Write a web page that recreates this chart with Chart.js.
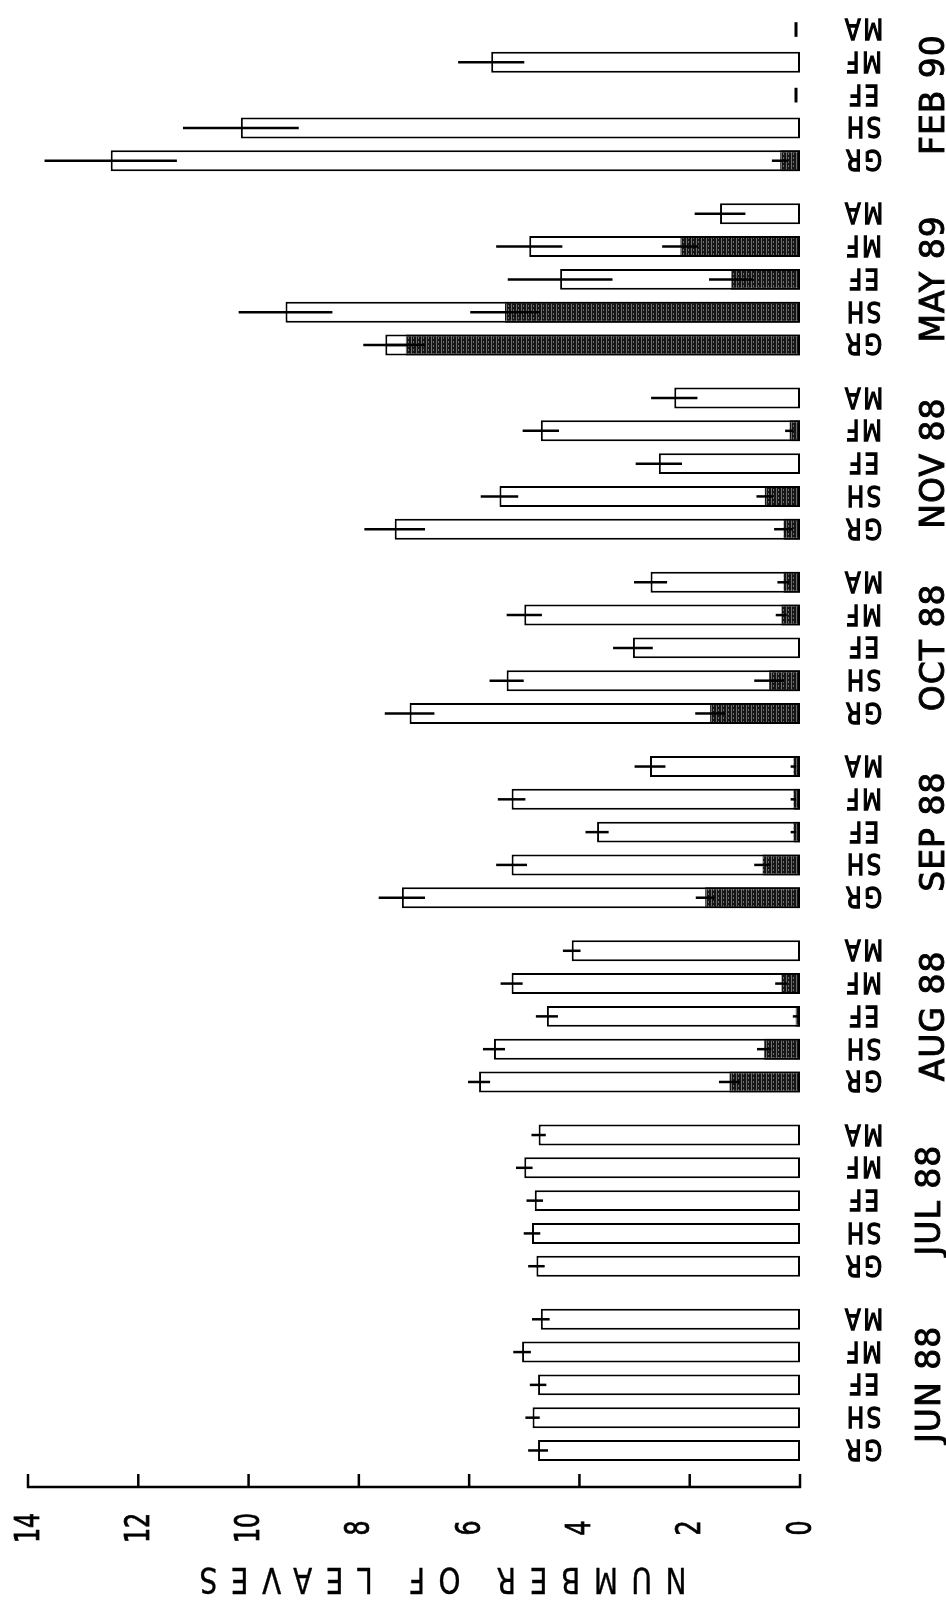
<!DOCTYPE html>
<html>
<head>
<meta charset="utf-8">
<title>Number of leaves</title>
<script src="https://cdn.jsdelivr.net/npm/chart.js@4/dist/chart.umd.min.js"></script>
<style>
  html, body { margin: 0; padding: 0; background: #ffffff; }
  #wrap { position: relative; width: 946px; height: 1603px; }
</style>
</head>
<body>
<div id="wrap"><canvas id="c" width="946" height="1603"></canvas></div>
<script>
// Sampling dates (bottom to top) and sites within each date
const months = ['JUN 88', 'JUL 88', 'AUG 88', 'SEP 88', 'OCT 88', 'NOV 88', 'MAY 89', 'FEB 90'];
const sites = ['GR', 'SH', 'EF', 'MF', 'MA'];
const valueTicks = [0, 2, 4, 6, 8, 10, 12, 14];
const axisTitle = 'NUMBER OF LEAVES';

// Total leaves per shoot (mean) and its error, one value per date
const grTotal = [4.75, 4.78, 5.82, 7.22, 7.08, 7.35, 7.52, 12.5];
const grTotalErr = [0.18, 0.15, 0.20, 0.42, 0.45, 0.55, 0.40, 1.20];
const shTotal = [4.85, 4.86, 5.55, 5.23, 5.32, 5.45, 9.33, 10.14];
const shTotalErr = [0.13, 0.15, 0.20, 0.28, 0.31, 0.34, 0.85, 1.05];
const efTotal = [4.75, 4.81, 4.59, 3.68, 3.03, 2.56, 4.35, 0];
const efTotalErr = [0.15, 0.15, 0.20, 0.21, 0.36, 0.42, 0.95, 0];
const mfTotal = [5.04, 5.00, 5.23, 5.23, 5.00, 4.70, 4.91, 5.60];
const mfTotalErr = [0.16, 0.15, 0.20, 0.25, 0.32, 0.33, 0.60, 0.60];
const maTotal = [4.70, 4.74, 4.14, 2.72, 2.71, 2.28, 1.45, 0];
const maTotalErr = [0.16, 0.13, 0.16, 0.28, 0.30, 0.42, 0.46, 0];

// Dead (shaded) part of the leaf count and its error
const grDark = [0, 0, 1.28, 1.72, 1.63, 0.30, 7.15, 0.36];
const grDarkErr = [0, 0, 0.19, 0.17, 0.27, 0.17, 0.35, 0.15];
const shDark = [0, 0, 0.65, 0.68, 0.56, 0.64, 5.35, 0];
const shDarkErr = [0, 0, 0.13, 0.15, 0.27, 0.15, 0.63, 0];
const efDark = [0, 0, 0.08, 0.12, 0, 0, 1.25, 0];
const efDarkErr = [0, 0, 0.05, 0.05, 0, 0, 0.40, 0];
const mfDark = [0, 0, 0.34, 0.12, 0.34, 0.19, 2.17, 0];
const mfDarkErr = [0, 0, 0.11, 0.05, 0.10, 0.08, 0.33, 0];
const maDark = [0, 0, 0, 0.12, 0.30, 0, 0, 0];
const maDarkErr = [0, 0, 0, 0.05, 0.11, 0, 0, 0];

const totals = { GR: grTotal, SH: shTotal, EF: efTotal, MF: mfTotal, MA: maTotal };
const totalErrs = { GR: grTotalErr, SH: shTotalErr, EF: efTotalErr, MF: mfTotalErr, MA: maTotalErr };
const darks = { GR: grDark, SH: shDark, EF: efDark, MF: mfDark, MA: maDark };
const darkErrs = { GR: grDarkErr, SH: shDarkErr, EF: efDarkErr, MF: mfDarkErr, MA: maDarkErr };

const canvas = document.getElementById('c');
const ctx0 = canvas.getContext('2d');

// Dark stippled fill used for the shaded part of each bar
function makeShade() {
  const p = document.createElement('canvas');
  p.width = 5; p.height = 4;
  const g = p.getContext('2d');
  g.fillStyle = '#151515'; g.fillRect(0, 0, 5, 4);
  g.fillStyle = '#6e6e6e'; g.fillRect(1, 0, 1, 4); g.fillRect(3, 1, 1, 2);
  return ctx0.createPattern(p, 'repeat');
}
const shade = makeShade();

// Top of each date group is MA, bottom is GR
const stackOrder = ['MA', 'MF', 'EF', 'SH', 'GR'];
const nz = arr => arr.map(v => (v > 0 ? v : null));

const datasets = [];
stackOrder.forEach(s => {
  datasets.push({
    label: s + ' dead', data: nz(darks[s]), stack: s, order: 0,
    backgroundColor: shade, borderColor: '#000', borderWidth: 2, borderSkipped: 'end'
  });
});
stackOrder.forEach(s => {
  datasets.push({
    label: s, data: nz(totals[s]), stack: s, order: 1,
    backgroundColor: '#ffffff', borderColor: '#000', borderWidth: 2, borderSkipped: false
  });
});

function drawText(ctx, text, x, y, angle, font, sx, spacing, stroke) {
  ctx.save();
  ctx.translate(x, y);
  ctx.rotate(angle);
  ctx.scale(sx, 1);
  ctx.font = font;
  ctx.letterSpacing = (spacing || 0) + 'px';
  ctx.textAlign = 'center';
  ctx.textBaseline = 'alphabetic';
  ctx.fillStyle = '#000';
  const m = ctx.measureText(text);
  const dx = spacing ? spacing / 2 : 0;
  const dy = (m.actualBoundingBoxAscent - m.actualBoundingBoxDescent) / 2;
  ctx.fillText(text, dx, dy);
  if (stroke) {
    ctx.strokeStyle = '#000';
    ctx.lineWidth = stroke;
    ctx.strokeText(text, dx, dy);
  }
  ctx.restore();
}

const decorations = {
  id: 'decorations',
  afterDatasetsDraw(chart) {
    const ctx = chart.ctx;
    const xs = chart.scales.x;
    const ys = chart.scales.y;
    const zero = xs.getPixelForValue(0);
    const barH = chart.getDatasetMeta(stackOrder.length).data[0].height;
    ctx.save();
    ctx.strokeStyle = '#000';
    ctx.lineCap = 'butt';

    stackOrder.forEach((s, k) => {
      const totMeta = chart.getDatasetMeta(k + stackOrder.length);
      months.forEach((m, i) => {
        const y = totMeta.data[i].y;
        const tot = totals[s][i];
        // error bar on the total
        if (tot > 0) {
          ctx.lineWidth = 2.5;
          ctx.beginPath();
          ctx.moveTo(xs.getPixelForValue(tot + totalErrs[s][i]), y);
          ctx.lineTo(xs.getPixelForValue(Math.max(0, tot - totalErrs[s][i])), y);
          ctx.stroke();
        } else {
          // nil count: short upright stroke at the baseline
          ctx.lineWidth = 3;
          ctx.beginPath();
          ctx.moveTo(zero - 4, y - barH * 0.35);
          ctx.lineTo(zero - 4, y + barH * 0.35);
          ctx.stroke();
        }
        // error bar on the dead part
        const d = darks[s][i];
        if (d > 0 && darkErrs[s][i] > 0) {
          ctx.lineWidth = 2.5;
          ctx.beginPath();
          ctx.moveTo(xs.getPixelForValue(d + darkErrs[s][i]), y);
          ctx.lineTo(xs.getPixelForValue(Math.max(0, d - darkErrs[s][i])), y);
          ctx.stroke();
        }
        // site label beside the bar (upside down)
        drawText(ctx, s, 864, y, Math.PI, '29px "DejaVu Sans"', 0.8, 3, 1.3);
      });
    });

    // date labels, reading upwards
    months.forEach((m, i) => {
      drawText(ctx, m, 931, ys.getPixelForValue(i), -Math.PI / 2, '33px "DejaVu Sans"', 1, 1, 0.9);
    });

    // value axis: line with inward ticks
    const axisY = 1487;
    ctx.lineWidth = 2.5;
    ctx.beginPath();
    ctx.moveTo(xs.getPixelForValue(valueTicks[valueTicks.length - 1]) - 1, axisY);
    ctx.lineTo(xs.getPixelForValue(valueTicks[0]) + 1, axisY);
    ctx.stroke();
    valueTicks.forEach(v => {
      const px = xs.getPixelForValue(v);
      ctx.beginPath();
      ctx.moveTo(px, axisY + 1);
      ctx.lineTo(px, axisY - 13);
      ctx.stroke();
      drawText(ctx, String(v), px - 2, 1528, -Math.PI / 2, '33px "DejaVu Sans"', 0.72, 0, 0.8);
    });

    // axis title (upside down)
    drawText(ctx, axisTitle, 443, 1580, Math.PI, '35px "DejaVu Sans"', 0.8, 17, 0.4);
    ctx.restore();
  }
};

new Chart(ctx0, {
  type: 'bar',
  data: { labels: months, datasets },
  options: {
    indexAxis: 'y',
    responsive: false,
    animation: false,
    devicePixelRatio: 1,
    categoryPercentage: 0.89,
    barPercentage: 0.64,
    layout: { padding: { left: 28, right: 146, top: 3, bottom: 126 } },
    scales: {
      x: { type: 'linear', min: 0, max: 14, reverse: true, stacked: false, display: false },
      y: { type: 'category', reverse: true, offset: true, display: false }
    },
    plugins: { legend: { display: false }, tooltip: { enabled: false } }
  },
  plugins: [decorations]
});
</script>
</body>
</html>
